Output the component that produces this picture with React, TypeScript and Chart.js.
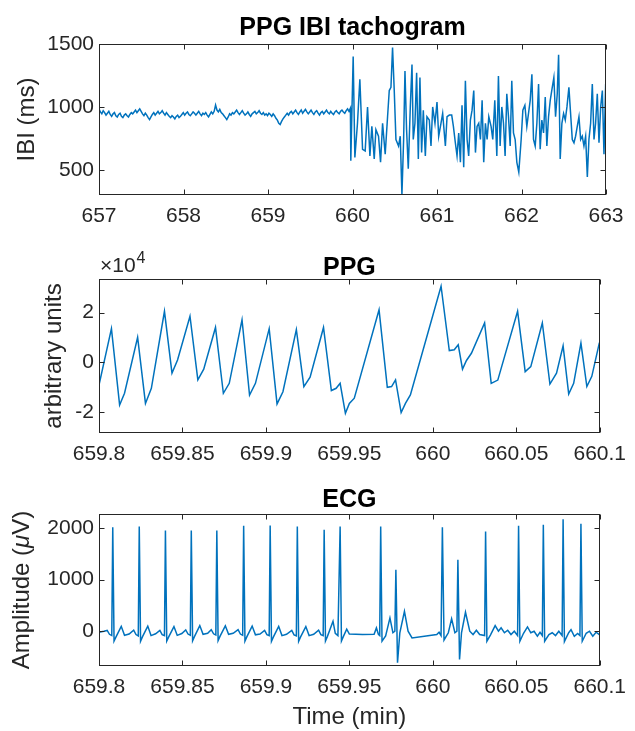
import React, { useEffect, useRef } from "react";
import { Chart, registerables } from "chart.js";

Chart.register(...registerables);

const FONT = '"Liberation Sans", Arial, Helvetica, sans-serif';
const LINE_COLOR = "#0072BD";
const AXIS_COLOR = "#262626";

// ---------- Panel 1: PPG IBI tachogram ----------
const ibiCalmStart = 657;
const ibiCalmEnd = 659.975;
const ibiCalm = [
  985, 960, 945, 970, 955, 935, 950, 965, 940, 925,
  945, 955, 930, 920, 940, 950, 925, 915, 935, 945,
  930, 920, 940, 955, 945, 960, 975, 955, 970, 985,
  965, 945, 930, 950, 935, 915, 900, 920, 940, 955,
  935, 950, 965, 945, 955, 970, 950, 935, 955, 940,
  925, 915, 930, 920, 905, 925, 935, 915, 925, 940,
  955, 935, 950, 960, 940, 930, 945, 960, 950, 935,
  950, 965, 945, 930, 950, 940, 955, 935, 920, 940,
  960, 945, 965, 1015, 975, 960, 980, 955, 945, 930,
  915, 900, 920, 945, 935, 955, 945, 960, 975, 955,
  940, 955, 970, 950, 935, 945, 960, 940, 925, 945,
  955, 965, 945, 955, 970, 950, 940, 955, 935, 945,
  930, 950, 940, 925, 945, 930, 910, 895, 870, 860,
  885, 905, 920, 935, 950, 935, 955, 965, 945, 960,
  975, 955, 940, 960, 975, 950, 965, 980, 960, 945,
  960, 975, 955, 940, 960, 970, 950, 935, 955, 965,
  945, 960, 975, 955, 945, 965, 950, 940, 960, 970,
  955, 945, 965, 975, 960, 950, 970, 985, 965, 990,
];
const ibiChaosTime = [
  659.980, 660.008, 660.028, 660.059, 660.087, 660.119, 660.150, 660.178, 660.206, 660.229,
  660.257, 660.277, 660.308, 660.332, 660.356, 660.387, 660.415, 660.435, 660.455, 660.474,
  660.494, 660.514, 660.545, 660.565, 660.585, 660.605, 660.621, 660.640, 660.660, 660.684,
  660.704, 660.719, 660.739, 660.759, 660.779, 660.798, 660.818, 660.838, 660.862, 660.881,
  660.909, 660.929, 660.949, 660.976, 661.000, 661.020, 661.047, 661.067, 661.099, 661.119,
  661.146, 661.174, 661.194, 661.217, 661.237, 661.257, 661.277, 661.296, 661.316, 661.336,
  661.356, 661.375, 661.395, 661.415, 661.435, 661.455, 661.474, 661.494, 661.514, 661.534,
  661.553, 661.573, 661.593, 661.613, 661.640, 661.660, 661.684, 661.708, 661.727, 661.747,
  661.767, 661.787, 661.806, 661.826, 661.846, 661.866, 661.885, 661.905, 661.925, 661.945,
  661.968, 661.996, 662.016, 662.040, 662.063, 662.083, 662.103, 662.123, 662.142, 662.162,
  662.182, 662.202, 662.221, 662.241, 662.261, 662.281, 662.300, 662.320, 662.340, 662.364,
  662.383, 662.403, 662.423, 662.439, 662.458, 662.478, 662.498, 662.518, 662.538, 662.561,
  662.581, 662.601, 662.621, 662.640, 662.660, 662.680, 662.700, 662.719, 662.739, 662.759,
  662.779, 662.798, 662.818, 662.838, 662.858, 662.877, 662.897, 662.917, 662.937, 662.957,
  662.976, 662.996,
];
const ibiChaos = [
  573, 1401, 598, 870, 1220, 663, 650, 1000, 611, 845,
  586, 819, 767, 560, 870, 624, 922, 1130, 1155, 1471,
  1130, 741, 689, 767, 301, 741, 1285, 819, 508, 1000,
  1337, 741, 870, 1272, 586, 1233, 637, 974, 611, 922,
  896, 689, 1000, 870, 1039, 767, 870, 948, 689, 922,
  935, 935, 845, 715, 611, 793, 560, 1013, 521, 1207,
  741, 611, 896, 974, 1130, 637, 845, 870, 741, 1052,
  560, 870, 741, 922, 845, 741, 1052, 611, 1246, 689,
  1000, 870, 611, 1104, 922, 689, 1207, 793, 741, 560,
  482, 741, 974, 1013, 845, 948, 1052, 1259, 741, 689,
  870, 1181, 663, 896, 793, 1078, 689, 922, 1052, 1155,
  1233, 922, 1104, 1414, 586, 870, 948, 896, 1000, 1155,
  948, 741, 715, 767, 845, 922, 741, 767, 689, 767,
  443, 741, 870, 1181, 741, 870, 1104, 715, 1000, 1130,
  624, 1181,
];
const ibiXTicks = [657, 658, 659, 660, 661, 662, 663];
const ibiXLabels = ["657", "658", "659", "660", "661", "662", "663"];
const ibiYTicks = [500, 1000, 1500];
const ibiYLabels = ["500", "1000", "1500"];

// ---------- Panel 2: PPG ----------
const ppgTime = [
  659.8, 659.80745, 659.81235, 659.81529, 659.82314, 659.82784, 659.83137, 659.83922, 659.84373, 659.84706,
  659.85451, 659.85922, 659.86275, 659.8698, 659.87451, 659.87804, 659.88569, 659.8902, 659.89373, 659.90196,
  659.90667, 659.9102, 659.91824, 659.92275, 659.92647, 659.93451, 659.93922, 659.94209, 659.94447, 659.94763,
  659.95, 659.95296, 659.96779, 659.97273, 659.9753, 659.97767, 659.98103, 659.9836, 659.98656, 660.00494,
  660.00988, 660.01285, 660.01522, 660.01779, 660.02016, 660.02312, 660.03103, 660.03498, 660.03893, 660.05079,
  660.05534, 660.0587, 660.06561, 660.07016, 660.07411, 660.07806, 660.08142, 660.08439, 660.08874, 660.09229,
  660.09526, 660.0998,
];
const ppgValue = [
  -9200, 13500, -17200, -12500, 10000, -16600, -10500, 20500, -4400, 900,
  18500, -7100, -2800, 14000, -12500, -8500, 17100, -13200, -8500, 13500,
  -16800, -11900, 13100, -9800, -6000, 14000, -11400, -10500, -8500, -20600,
  -16600, -14500, 21100, -10100, -9800, -7100, -20300, -16600, -13200, 30600,
  4700, 5000, 7000, -2800, 700, 3600, 15800, -8500, -7200, 20500,
  -3800, -1800, 15800, -8800, -4400, 6600, -12800, -8500, 7700, -9800,
  -5700, 7900,
];
const zoomXTicks = [659.8, 659.85, 659.9, 659.95, 660, 660.05, 660.1];
const zoomXLabels = ["659.8", "659.85", "659.9", "659.95", "660", "660.05", "660.1"];
const ppgYTicks = [-20000, 0, 20000];
const ppgYLabels = ["-2", "0", "2"];

// ---------- Panel 3: ECG ----------
const ecgTime = [
  659.8, 659.80294, 659.8049, 659.80627, 659.80765, 659.80824, 659.80902, 659.8102, 659.81333, 659.81529,
  659.81804, 659.82078, 659.82216, 659.82353, 659.82412, 659.8249, 659.82608, 659.82922, 659.83118, 659.83392,
  659.83647, 659.83784, 659.83922, 659.8398, 659.84059, 659.84176, 659.8449, 659.84686, 659.84961, 659.85196,
  659.85333, 659.85471, 659.85529, 659.85608, 659.85725, 659.86039, 659.86235, 659.8651, 659.86725, 659.86863,
  659.87, 659.87059, 659.87137, 659.87255, 659.87569, 659.87765, 659.88039, 659.88333, 659.88471, 659.88608,
  659.88667, 659.88745, 659.88863, 659.89176, 659.89373, 659.89647, 659.89922, 659.90059, 659.90196, 659.90255,
  659.90333, 659.90451, 659.90765, 659.90961, 659.91235, 659.91549, 659.91686, 659.91824, 659.91882, 659.91961,
  659.92078, 659.92392, 659.92588, 659.92863, 659.93157, 659.93294, 659.93431, 659.9349, 659.93569, 659.93686,
  659.9402, 659.94157, 659.94314, 659.94447, 659.94526, 659.94644, 659.94842, 659.95, 659.95791, 659.96482,
  659.96621, 659.96739, 659.96818, 659.96877, 659.96957, 659.97174, 659.97431, 659.97609, 659.97727, 659.97787,
  659.97885, 659.98024, 659.983, 659.98518, 659.98755, 660.00237, 660.00375, 660.00494, 660.00573, 660.00672,
  660.00929, 660.01126, 660.01324, 660.01443, 660.01502, 660.01601, 660.01719, 660.01957, 660.02213, 660.02411,
  660.02609, 660.02806, 660.03103, 660.03162, 660.03241, 660.03458, 660.03735, 660.03933, 660.04091, 660.04289,
  660.04486, 660.04684, 660.04881, 660.05079, 660.05138, 660.05217, 660.05435, 660.05672, 660.0587, 660.06067,
  660.06265, 660.06423, 660.06561, 660.06621, 660.067, 660.06957, 660.07154, 660.07352, 660.07549, 660.07747,
  660.07806, 660.07885, 660.08142, 660.08281, 660.08478, 660.08676, 660.08814, 660.08874, 660.08953, 660.0919,
  660.09387, 660.09585, 660.09783, 660.0998,
];
const ecgValue = [
  -19, 0, 15, -60, -84, 2019, -190, -110, 95, -80,
  -55, 20, -65, -90, 2032, -195, -105, 100, -85, -50,
  15, -65, -85, 1955, -190, -110, 90, -80, -45, 25,
  -55, -80, 1955, -185, -100, 110, -60, -40, 30, -50,
  -75, 1955, -180, -95, 105, -60, -40, 30, -55, -80,
  2045, -190, -105, 100, -70, -55, 15, -65, -85, 2052,
  -195, -110, 95, -85, -60, 15, -70, -90, 2032, -195,
  -110, 90, -85, -60, 20, -65, -85, 1968, -190, -100,
  194, -40, -84, 2032, -190, -100, 40, -55, -65, -60,
  65, -60, -84, 2032, -194, -90, 258, -30, 0, 1194,
  -613, -30, 387, 0, -130, -65, -20, -84, 2019, -170,
  -30, 240, -30, 0, 1387, -548, -30, 368, 0, -65,
  20, -65, -84, 1935, -194, -70, 110, 0, 65, -30,
  20, -65, 0, -84, 2045, -194, -40, 84, -30, 0,
  -97, -20, -84, 2065, -194, -65, -30, -84, 0, -84,
  2174, -200, -30, 30, -97, -45, -84, 2084, -194, -40,
  0, -97, -20, -65,
];
const ecgYTicks = [0, 1000, 2000];
const ecgYLabels = ["0", "1000", "2000"];

// ---------- helpers ----------
type Pt = { x: number; y: number };

function evenSeries(start: number, end: number, values: number[]): Pt[] {
  const step = (end - start) / (values.length - 1);
  return values.map((y, i) => ({ x: start + i * step, y }));
}
function pairSeries(xs: number[], ys: number[]): Pt[] {
  return xs.map((x, i) => ({ x, y: ys[i] }));
}

type Seg = { text: string; italic?: boolean };

type PanelCfg = {
  key: string;
  top: number;
  height: number;
  areaTop: number;
  areaBottom: number;
  xMin: number;
  xMax: number;
  yMin: number;
  yMax: number;
  xTicks: number[];
  xLabels: string[];
  yTicks: number[];
  yLabels: string[];
  title: string;
  titleY: number;
  yTitle: Seg[];
  yTitleX: number;
  xTitle?: string;
  xTitleY?: number;
  exponent?: boolean;
  data: Pt[];
};

const PLOT_LEFT = 99;
const PLOT_RIGHT = 606;
const W = 635;
const TICK_FONT = 21;
const LABEL_FONT = 24;
const TITLE_FONT = 25;

function framePlugin(cfg: PanelCfg) {
  return {
    id: "frame_" + cfg.key,
    afterDraw(chart: any) {
      const { ctx, chartArea: a } = chart;
      const xs = chart.scales.x;
      const ys = chart.scales.y;
      ctx.save();
      ctx.strokeStyle = AXIS_COLOR;
      ctx.lineWidth = 1;
      const L = Math.round(a.left) + 0.5;
      const R = Math.round(a.right) - 0.5;
      const T = Math.round(a.top) + 0.5;
      const B = Math.round(a.bottom) - 0.5;
      ctx.strokeRect(L, T, R - L, B - T);
      ctx.beginPath();
      const tl = 5;
      for (const v of cfg.xTicks) {
        const px = Math.round(xs.getPixelForValue(v)) + 0.5;
        ctx.moveTo(px, B);
        ctx.lineTo(px, B - tl);
        ctx.moveTo(px, T);
        ctx.lineTo(px, T + tl);
      }
      for (const v of cfg.yTicks) {
        const py = Math.round(ys.getPixelForValue(v)) + 0.5;
        ctx.moveTo(L, py);
        ctx.lineTo(L + tl, py);
        ctx.moveTo(R, py);
        ctx.lineTo(R - tl, py);
      }
      ctx.stroke();

      // title
      ctx.fillStyle = "#000";
      ctx.font = `bold ${TITLE_FONT}px ${FONT}`;
      ctx.textAlign = "center";
      ctx.textBaseline = "middle";
      ctx.fillText(cfg.title, (a.left + a.right) / 2, cfg.titleY);

      // y title (rotated)
      ctx.fillStyle = AXIS_COLOR;
      ctx.save();
      ctx.translate(cfg.yTitleX, (a.top + a.bottom) / 2);
      ctx.rotate(-Math.PI / 2);
      const fonts = cfg.yTitle.map((s) =>
        s.italic ? `italic ${LABEL_FONT}px ${FONT}` : `${LABEL_FONT}px ${FONT}`
      );
      let total = 0;
      const widths = cfg.yTitle.map((s, i) => {
        ctx.font = fonts[i];
        const w = ctx.measureText(s.text).width;
        total += w;
        return w;
      });
      let cx = -total / 2;
      ctx.textAlign = "left";
      ctx.textBaseline = "middle";
      cfg.yTitle.forEach((s, i) => {
        ctx.font = fonts[i];
        ctx.fillText(s.text, cx, 0);
        cx += widths[i];
      });
      ctx.restore();

      // x title
      if (cfg.xTitle && cfg.xTitleY !== undefined) {
        ctx.font = `${LABEL_FONT}px ${FONT}`;
        ctx.textAlign = "center";
        ctx.textBaseline = "middle";
        ctx.fillText(cfg.xTitle, (a.left + a.right) / 2, cfg.xTitleY);
      }

      // exponent label
      if (cfg.exponent) {
        ctx.textAlign = "left";
        ctx.textBaseline = "alphabetic";
        ctx.font = `${TICK_FONT}px ${FONT}`;
        const base = "\u00d710";
        const bx = a.left + 1;
        const by = a.top - 7;
        ctx.fillText(base, bx, by);
        const bw = ctx.measureText(base).width;
        ctx.font = `${Math.round(TICK_FONT * 0.75)}px ${FONT}`;
        ctx.fillText("4", bx + bw + 1, by - 9);
      }
      ctx.restore();
    },
  };
}

function Panel({ cfg }: { cfg: PanelCfg }) {
  const ref = useRef<HTMLCanvasElement | null>(null);
  useEffect(() => {
    if (!ref.current) return;
    const chart = new Chart(ref.current, {
      type: "line",
      data: {
        datasets: [
          {
            data: cfg.data,
            borderColor: LINE_COLOR,
            borderWidth: 1.5,
            pointRadius: 0,
            tension: 0,
            fill: false,
          },
        ],
      },
      options: {
        animation: false,
        responsive: false,
        events: [],
        layout: {
          padding: { left: 0, right: W - PLOT_RIGHT, top: cfg.areaTop, bottom: 0 },
        },
        plugins: {
          legend: { display: false },
          tooltip: { enabled: false },
          title: { display: false },
        },
        scales: {
          x: {
            type: "linear",
            min: cfg.xMin,
            max: cfg.xMax,
            afterFit: (s: any) => {
              s.height = cfg.height - cfg.areaBottom;
            },
            afterBuildTicks: (s: any) => {
              s.ticks = cfg.xTicks.map((v) => ({ value: v }));
            },
            ticks: {
              autoSkip: false,
              maxRotation: 0,
              padding: 9,
              color: AXIS_COLOR,
              font: { family: FONT, size: TICK_FONT },
              callback: (v: any, i: number) => cfg.xLabels[i],
            },
            grid: { display: false, drawTicks: false },
            border: { display: false },
          },
          y: {
            type: "linear",
            min: cfg.yMin,
            max: cfg.yMax,
            afterFit: (s: any) => {
              s.width = PLOT_LEFT;
            },
            afterBuildTicks: (s: any) => {
              s.ticks = cfg.yTicks.map((v) => ({ value: v }));
            },
            ticks: {
              autoSkip: false,
              padding: 5,
              color: AXIS_COLOR,
              font: { family: FONT, size: TICK_FONT },
              callback: (v: any, i: number) => cfg.yLabels[i],
            },
            grid: { display: false, drawTicks: false },
            border: { display: false },
          },
        },
      },
      plugins: [framePlugin(cfg)],
    } as any);
    return () => chart.destroy();
  }, [cfg]);
  return (
    <canvas
      ref={ref}
      width={W}
      height={cfg.height}
      style={{ position: "absolute", left: 0, top: cfg.top, width: W, height: cfg.height }}
    />
  );
}

const panels: PanelCfg[] = [
  {
    key: "ibi",
    top: 0,
    height: 240,
    areaTop: 44,
    areaBottom: 195,
    xMin: 657,
    xMax: 663,
    yMin: 300,
    yMax: 1500,
    xTicks: ibiXTicks,
    xLabels: ibiXLabels,
    yTicks: ibiYTicks,
    yLabels: ibiYLabels,
    title: "PPG IBI tachogram",
    titleY: 28,
    yTitle: [{ text: "IBI (ms)" }],
    yTitleX: 27,
    data: [
      ...evenSeries(ibiCalmStart, ibiCalmEnd, ibiCalm),
      ...pairSeries(ibiChaosTime, ibiChaos),
    ],
  },
  {
    key: "ppg",
    top: 240,
    height: 240,
    areaTop: 39,
    areaBottom: 193,
    xMin: 659.8,
    xMax: 660.1,
    yMin: -28500,
    yMax: 33500,
    xTicks: zoomXTicks,
    xLabels: zoomXLabels,
    yTicks: ppgYTicks,
    yLabels: ppgYLabels,
    title: "PPG",
    titleY: 28,
    yTitle: [{ text: "arbitrary units" }],
    yTitleX: 54,
    exponent: true,
    data: pairSeries(ppgTime, ppgValue),
  },
  {
    key: "ecg",
    top: 480,
    height: 251,
    areaTop: 34,
    areaBottom: 186,
    xMin: 659.8,
    xMax: 660.1,
    yMin: -675,
    yMax: 2275,
    xTicks: zoomXTicks,
    xLabels: zoomXLabels,
    yTicks: ecgYTicks,
    yLabels: ecgYLabels,
    title: "ECG",
    titleY: 20,
    yTitle: [{ text: "Amplitude (" }, { text: "\u03bc", italic: true }, { text: "V)" }],
    yTitleX: 22,
    xTitle: "Time (min)",
    xTitleY: 237,
    data: pairSeries(ecgTime, ecgValue),
  },
];

export default function App() {
  return (
    <div
      style={{
        position: "absolute",
        left: 0,
        top: 0,
        width: W,
        height: 731,
        background: "#fff",
        overflow: "hidden",
      }}
    >
      {panels.map((p) => (
        <Panel key={p.key} cfg={p} />
      ))}
    </div>
  );
}
